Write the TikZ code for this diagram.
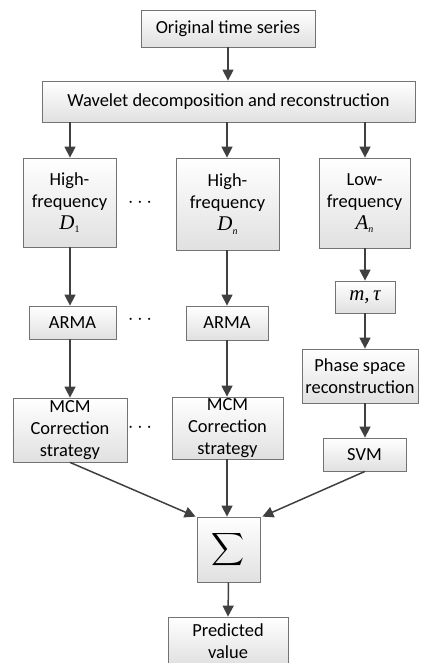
\documentclass[tikz,border=0pt]{standalone}
\usepackage{fontspec}
\usepackage{graphicx}
\setmainfont{Carlito}
\newfontfamily\tnr{Liberation Serif}
\usetikzlibrary{arrows.meta,shadows,calc}
\tikzset{
  box/.style={draw=black!55, line width=0.8pt, top color=white, bottom color=black!12,
    drop shadow={shadow xshift=1.2pt, shadow yshift=-1.2pt, fill=black!35, opacity=0.6},
    align=center, inner sep=0pt, font=\fontsize{18.5}{22}\selectfont},
  arr/.style={draw=black!75, line width=1.5pt, -{Triangle[length=11pt,width=11pt]}},
  dots/.style={font=\fontsize{21}{22}\selectfont, inner sep=0pt}
}
\newcommand{\mvar}[1]{{\tnr\itshape\fontsize{21}{22}\selectfont #1}}
\begin{document}
\begin{tikzpicture}[x=1bp,y=-1bp]
\useasboundingbox (0,0) rectangle (420,663);
\node[box, minimum width=174bp, minimum height=37bp] (orig) at (228,28.5) {Original time series};
\node[box, minimum width=373bp, minimum height=41bp] (wave) at (228.5,101.5) {Wavelet decomposition and reconstruction};
\node[box, minimum width=93bp, minimum height=89bp] (d1) at (69.5,202.5) {High-\\frequency\\\mvar{D}\raisebox{-0.4ex}{\tnr\fontsize{10}{10}\selectfont 1}};
\node[box, minimum width=103bp, minimum height=92bp] (dn) at (227.5,204) {High-\\frequency\\\mvar{D}\raisebox{-0.4ex}{\tnr\itshape\fontsize{10}{10}\selectfont n}};
\node[box, minimum width=91bp, minimum height=90bp] (an) at (364.5,203) {Low-\\frequency\\\mvar{A}\raisebox{-0.4ex}{\tnr\itshape\fontsize{10}{10}\selectfont n}};
\node[box, minimum width=87bp, minimum height=33bp] (arma1) at (72.5,322.5) {ARMA};
\node[box, minimum width=82bp, minimum height=34bp] (arma2) at (227,323) {ARMA};
\node[box, minimum width=60bp, minimum height=32bp] (mt) at (365,297) {\mvar{m{\upshape,\,}τ}};
\node[box, minimum width=116bp, minimum height=54bp] (phase) at (360,376) {Phase space\\reconstruction};
\node[box, minimum width=83bp, minimum height=33bp] (svm) at (364.5,454.5) {SVM};
\node[box, minimum width=114bp, minimum height=64bp] (mcm1) at (70,430) {MCM\\Correction\\strategy};
\node[box, minimum width=111bp, minimum height=62bp] (mcm2) at (227.5,428) {MCM\\Correction\\strategy};
\node[box, minimum width=63bp, minimum height=65bp] (sig) at (228.5,549.5) {\scalebox{2.3}{$\displaystyle\sum$}};
\node[box, minimum width=120bp, minimum height=48bp] (pred) at (228,641) {Predicted\\value};
\node[dots] (dt1) at (140,203) {$\cdots$};
\node[dots] (dt2) at (140,320) {$\cdots$};
\node[dots] (dt3) at (140,428) {$\cdots$};
\coordinate (w1) at (70,0);
\coordinate (w2) at (227,0);
\coordinate (w3) at (365,0);
\draw[arr] (orig.south) -- (orig.south |- wave.north);
\draw[arr] (w1 |- wave.south) -- (w1 |- d1.north);
\draw[arr] (w2 |- wave.south) -- (w2 |- dn.north);
\draw[arr] (w3 |- wave.south) -- (w3 |- an.north);
\draw[arr] (w1 |- d1.south) -- (w1 |- arma1.north);
\draw[arr] (w2 |- dn.south) -- (w2 |- arma2.north);
\draw[arr] (w1 |- arma1.south) -- (w1 |- mcm1.north);
\draw[arr] (w2 |- arma2.south) -- (w2 |- mcm2.north);
\draw[arr] (w3 |- an.south) -- (w3 |- mt.north);
\draw[arr] (w3 |- mt.south) -- (w3 |- phase.north);
\draw[arr] (w3 |- phase.south) -- (w3 |- svm.north);
\draw[arr] (mcm1.south) -- ($(sig.north west)+(-1,0)$);
\draw[arr] (w2 |- mcm2.south) -- (w2 |- sig.north);
\draw[arr] (w3 |- svm.south) -- ($(sig.north east)+(2,0)$);
\draw[arr] (sig.south) -- (pred.north);
\end{tikzpicture}
\end{document}
